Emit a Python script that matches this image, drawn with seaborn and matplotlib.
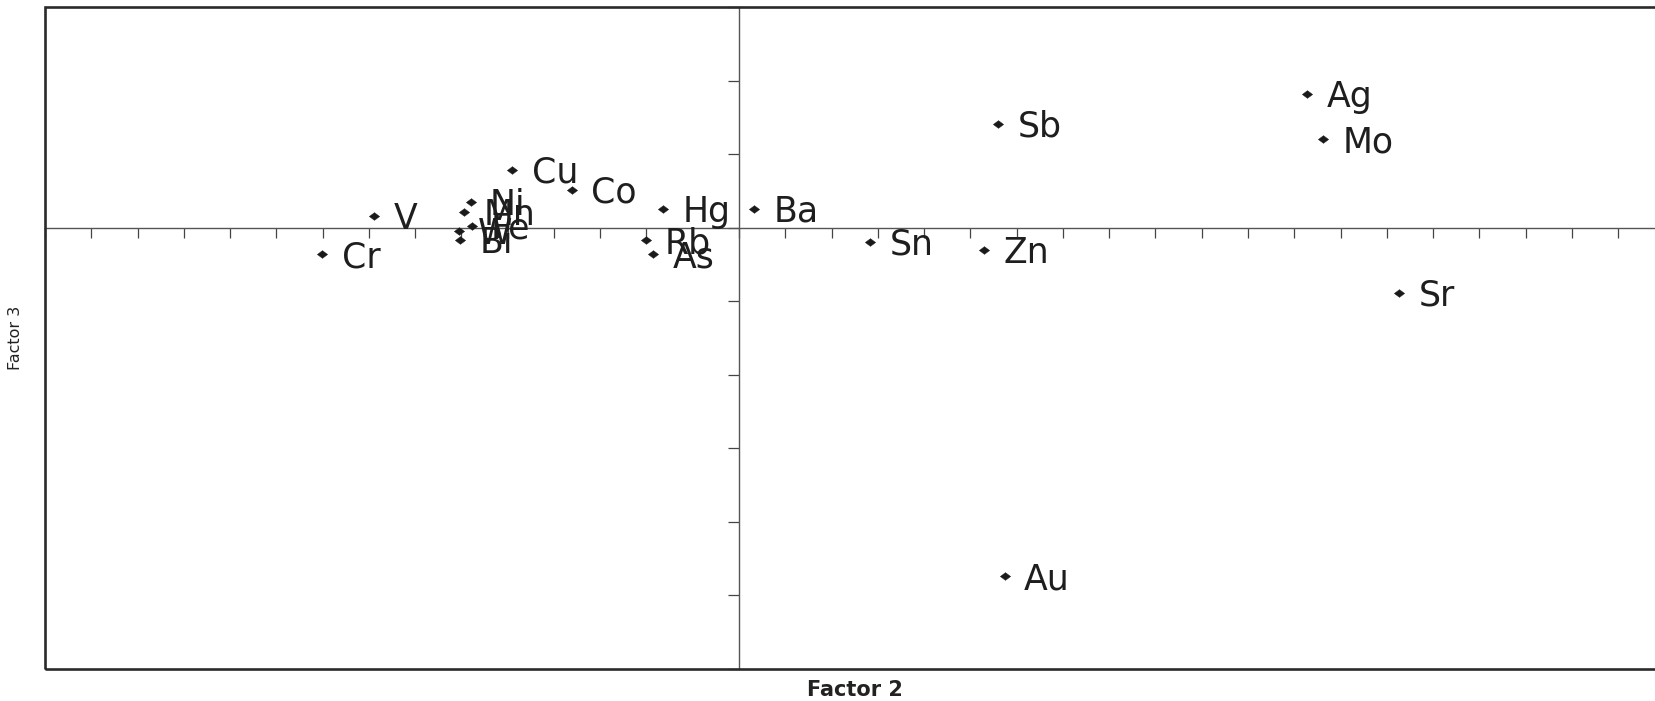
import numpy as np
import pandas as pd
import matplotlib
matplotlib.use("Agg")
import matplotlib.pyplot as plt
from matplotlib.patches import Rectangle
import seaborn as sns

# ---- data ----
elements = ["Ag", "Mo", "Sb", "Sr", "Au", "Sn", "Zn", "Ba", "Hg", "Co", "Cu",
            "V", "Cr", "Rb", "As", "Ni", "Mn", "Fe", "W", "Bi"]
factor2 = [0.614, 0.631, 0.280, 0.7135, 0.287, 0.142, 0.265, 0.016, -0.082, -0.181, -0.245,
           -0.3945, -0.4505, -0.101, -0.093, -0.290, -0.297, -0.289, -0.303, -0.3015]
factor3 = [0.182, 0.1205, 0.142, -0.088, -0.474, -0.019, -0.030, 0.026, 0.026, 0.052, 0.079,
           0.016, -0.036, -0.017, -0.036, 0.035, 0.022, 0.003, -0.004, -0.016]
x_ticks = np.round(np.arange(-0.75, 1.0001, 0.05), 2)
y_ticks = np.round(np.arange(-0.6, 0.3001, 0.1), 2)
x_label = "Factor 2"
y_label = "Factor 3"

df = pd.DataFrame({"el": elements, "f2": factor2, "f3": factor3})

sns.set_style("white")
plt.rcParams["font.family"] = ["DejaVu Sans"]

fig = plt.figure(figsize=(16.56, 7.01), dpi=100)
ax = fig.add_axes([0.02717, 0.04565, 0.9779, 0.9437])

diamond = [(-1, 0), (0, 0.75), (1, 0), (0, -0.75), (-1, 0)]
sns.scatterplot(data=df, x="f2", y="f3", ax=ax, marker=diamond, s=55,
                color="#1a1a1a", edgecolor="#1a1a1a", linewidth=0.3, zorder=3)

for el, xv, yv in zip(elements, factor2, factor3):
    ax.annotate(el, (xv, yv), xytext=(14, -9.3), textcoords="offset points",
                ha="left", va="baseline", fontsize=25, color="#1e1e1e",
                zorder=4)

ax.set_xlim(-0.75, 1.0)
ax.set_ylim(-0.6, 0.3)

# axes through the origin
for side in ["top", "right"]:
    ax.spines[side].set_visible(False)
ax.spines["left"].set_position(("data", 0))
ax.spines["bottom"].set_position(("data", 0))
for side in ["left", "bottom"]:
    ax.spines[side].set_color("#555555")
    ax.spines[side].set_linewidth(1.0)
    ax.spines[side].set_visible(True)

ax.set_xticks(x_ticks)
ax.set_yticks(y_ticks)
ax.tick_params(axis="x", direction="out", length=7.5, width=0.9, color="#444444",
               labelbottom=False, bottom=True)
ax.tick_params(axis="y", direction="out", length=8, width=0.9, color="#444444",
               labelleft=False, left=True)

# outer frame
ax.add_patch(Rectangle((0, 0), 1, 1, transform=ax.transAxes, fill=False,
                       edgecolor="#2a2a2a", linewidth=1.9, clip_on=False, zorder=5))

ax.set_xlabel(x_label, fontsize=15, fontweight="bold", color="#222222")
ax.xaxis.set_label_coords(0.5, -0.017)
ax.xaxis.label.set_va("top")
ax.set_ylabel(y_label, fontsize=11.5, color="#222222")
ax.yaxis.set_label_coords(-0.0135, 0.5)

fig.savefig("out.png", dpi=100)
